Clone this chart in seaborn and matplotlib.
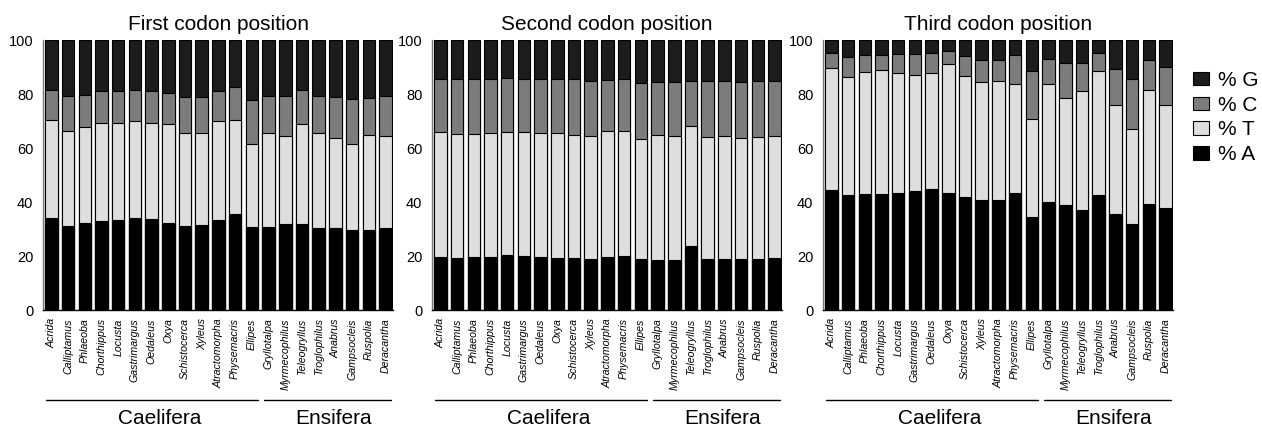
import matplotlib
matplotlib.use("Agg")
import matplotlib.pyplot as plt
import seaborn as sns
import numpy as np
import pandas as pd
from matplotlib.patches import Patch

species = ["Acrida", "Calliptamus", "Phlaeoba", "Chorthippus", "Locusta", "Gastrimargus",
           "Oedaleus", "Oxya", "Schistocerca", "Xyleus", "Atractomorpha", "Physemacris",
           "Ellipes", "Gryllotalpa", "Myrmecophilus", "Teleogryllus", "Troglophilus",
           "Anabrus", "Gampsocleis", "Ruspolia", "Deracantha"]

titles = ["First codon position", "Second codon position", "Third codon position"]

# percentages per codon position (A, T, C, G)
first_A = [34.2, 31.0, 32.3, 32.8, 33.3, 34.1, 33.8, 32.1, 31.1, 31.6, 33.3, 35.7,
           30.6, 30.6, 31.7, 31.7, 30.4, 30.2, 29.8, 29.6, 30.4]
first_T = [36.0, 35.4, 35.4, 36.3, 36.1, 35.9, 35.5, 36.8, 34.3, 33.8, 36.6, 34.7,
           30.8, 35.0, 32.6, 37.1, 35.2, 33.6, 31.8, 35.1, 34.0]
first_C = [11.2, 12.7, 12.1, 11.9, 11.8, 11.6, 11.9, 11.3, 13.5, 13.5, 11.2, 12.3,
           16.5, 13.7, 15.1, 12.8, 13.7, 15.0, 16.5, 13.7, 14.7]
first_G = [18.6, 20.9, 20.2, 19.0, 18.8, 18.4, 18.8, 19.8, 21.1, 21.1, 18.9, 17.3,
           22.1, 20.7, 20.6, 18.4, 20.7, 21.2, 21.9, 21.6, 20.9]

second_A = [19.8, 19.4, 19.6, 19.8, 20.2, 20.1, 19.6, 19.4, 19.4, 18.9, 19.6, 20.0,
            18.8, 18.5, 18.5, 23.6, 18.9, 19.0, 18.8, 18.9, 19.1]
second_T = [46.2, 45.7, 45.5, 45.8, 45.7, 45.8, 46.1, 46.2, 45.3, 45.7, 46.7, 46.2,
            44.7, 46.4, 45.9, 44.4, 45.3, 45.3, 44.9, 45.3, 45.2]
second_C = [19.7, 20.3, 20.3, 20.1, 20.1, 19.8, 20.0, 19.8, 20.7, 20.3, 19.0, 19.5,
            20.5, 19.7, 20.2, 16.9, 20.6, 20.5, 20.7, 20.5, 20.5]
second_G = [14.3, 14.6, 14.6, 14.3, 14.0, 14.3, 14.3, 14.6, 14.6, 15.1, 14.7, 14.3,
            16.0, 15.4, 15.4, 15.1, 15.2, 15.2, 15.6, 15.3, 15.2]

third_A = [44.3, 42.5, 42.8, 43.0, 43.5, 44.1, 44.8, 43.5, 42.0, 40.6, 40.6, 43.5,
           34.3, 39.9, 38.8, 37.0, 42.5, 35.6, 31.9, 39.1, 37.8]
third_T = [45.5, 43.8, 45.3, 45.9, 44.4, 42.9, 43.0, 47.7, 44.8, 43.8, 44.2, 40.3,
           36.4, 43.8, 39.6, 44.2, 45.9, 40.2, 35.1, 42.5, 38.2]
third_C = [5.4, 7.5, 6.2, 5.7, 7.0, 7.7, 7.3, 4.7, 7.3, 8.1, 7.9, 10.5,
           17.9, 9.1, 13.0, 10.2, 6.8, 13.6, 18.7, 10.9, 14.0]
third_G = [4.8, 6.2, 5.7, 5.4, 5.1, 5.3, 4.9, 4.1, 5.9, 7.5, 7.3, 5.7,
           11.4, 7.2, 8.6, 8.6, 4.8, 10.6, 14.3, 7.5, 10.0]

panels = [
    (first_A, first_T, first_C, first_G),
    (second_A, second_T, second_C, second_G),
    (third_A, third_T, third_C, third_G),
]

groups = ["Caelifera", "Ensifera"]
group_sizes = [13, 8]

bases = ["% G", "% C", "% T", "% A"]
colors = {"% G": "#1c1c1c", "% C": "#7c7c7c", "% T": "#dedede", "% A": "#000000"}

sns.set_theme(style="white")
plt.rcParams["font.family"] = ["Liberation Sans", "DejaVu Sans"]
plt.rcParams["text.color"] = "black"
plt.rcParams["axes.labelcolor"] = "black"
plt.rcParams["xtick.color"] = "black"
plt.rcParams["ytick.color"] = "black"

fig = plt.figure(figsize=(12.62, 4.25), dpi=100)
W, H = 1262, 425
lefts = [43, 432, 823]
axw = 350
bottom_px, top_px = 310, 40

for i, (A, T, C, G) in enumerate(panels):
    ax = fig.add_axes([lefts[i] / W, (H - bottom_px) / H, axw / W, (bottom_px - top_px) / H])
    A = np.array(A); T = np.array(T); C = np.array(C); G = np.array(G)
    df = pd.DataFrame({"species": species, "A": A, "AT": A + T, "ATC": A + T + C,
                       "ATCG": A + T + C + G})
    for col, base in [("ATCG", "% G"), ("ATC", "% C"), ("AT", "% T"), ("A", "% A")]:
        sns.barplot(data=df, x="species", y=col, order=species, color=colors[base],
                    saturation=1, width=0.75, edgecolor="black", linewidth=0.8, ax=ax)
    ax.set_ylim(0, 100)
    ax.set_xlim(-0.5, 20.45)
    ax.set_yticks([0, 20, 40, 60, 80, 100])
    ax.set_xlabel("")
    ax.set_ylabel("")
    ax.tick_params(axis="y", length=0, pad=7, labelsize=10.5, colors="black")
    ax.tick_params(axis="x", length=0, pad=6, colors="black")
    ax.set_xticks(range(len(species)))
    ax.set_xticklabels(species, rotation=90, fontsize=7.7, style="italic",
                       ha="center", va="top")
    for s in ["top", "right"]:
        ax.spines[s].set_visible(False)
    ax.spines["left"].set_color("#7a7a7a")
    ax.spines["left"].set_linewidth(1.0)
    ax.spines["bottom"].set_color("black")
    ax.spines["bottom"].set_linewidth(1.0)
    ax.set_title(titles[i], fontsize=15, pad=7, color="black")

    # group lines and labels
    start = 0
    text_x = [6.5, 16.9]
    for g, (name, n) in enumerate(zip(groups, group_sizes)):
        x0 = start - 0.3
        x1 = start + n - 1 + 0.35
        ax.plot([x0, x1], [-0.333, -0.333], color="black", lw=1.0,
                transform=ax.get_xaxis_transform(), clip_on=False)
        ax.text(text_x[g], -0.40, name, fontsize=15, ha="center", va="center",
                color="black", transform=ax.get_xaxis_transform())
        start += n

handles = [Patch(facecolor=colors[b], edgecolor="black", linewidth=0.8) for b in bases]
fig.legend(handles, bases, loc="center left", bbox_to_anchor=(1193 / W, 1 - 117.5 / H),
           frameon=False, fontsize=15, handlelength=0.76, handleheight=0.6,
           handletextpad=0.42, labelspacing=0.28, borderaxespad=0, borderpad=0)

fig.savefig("out.png", dpi=100)
